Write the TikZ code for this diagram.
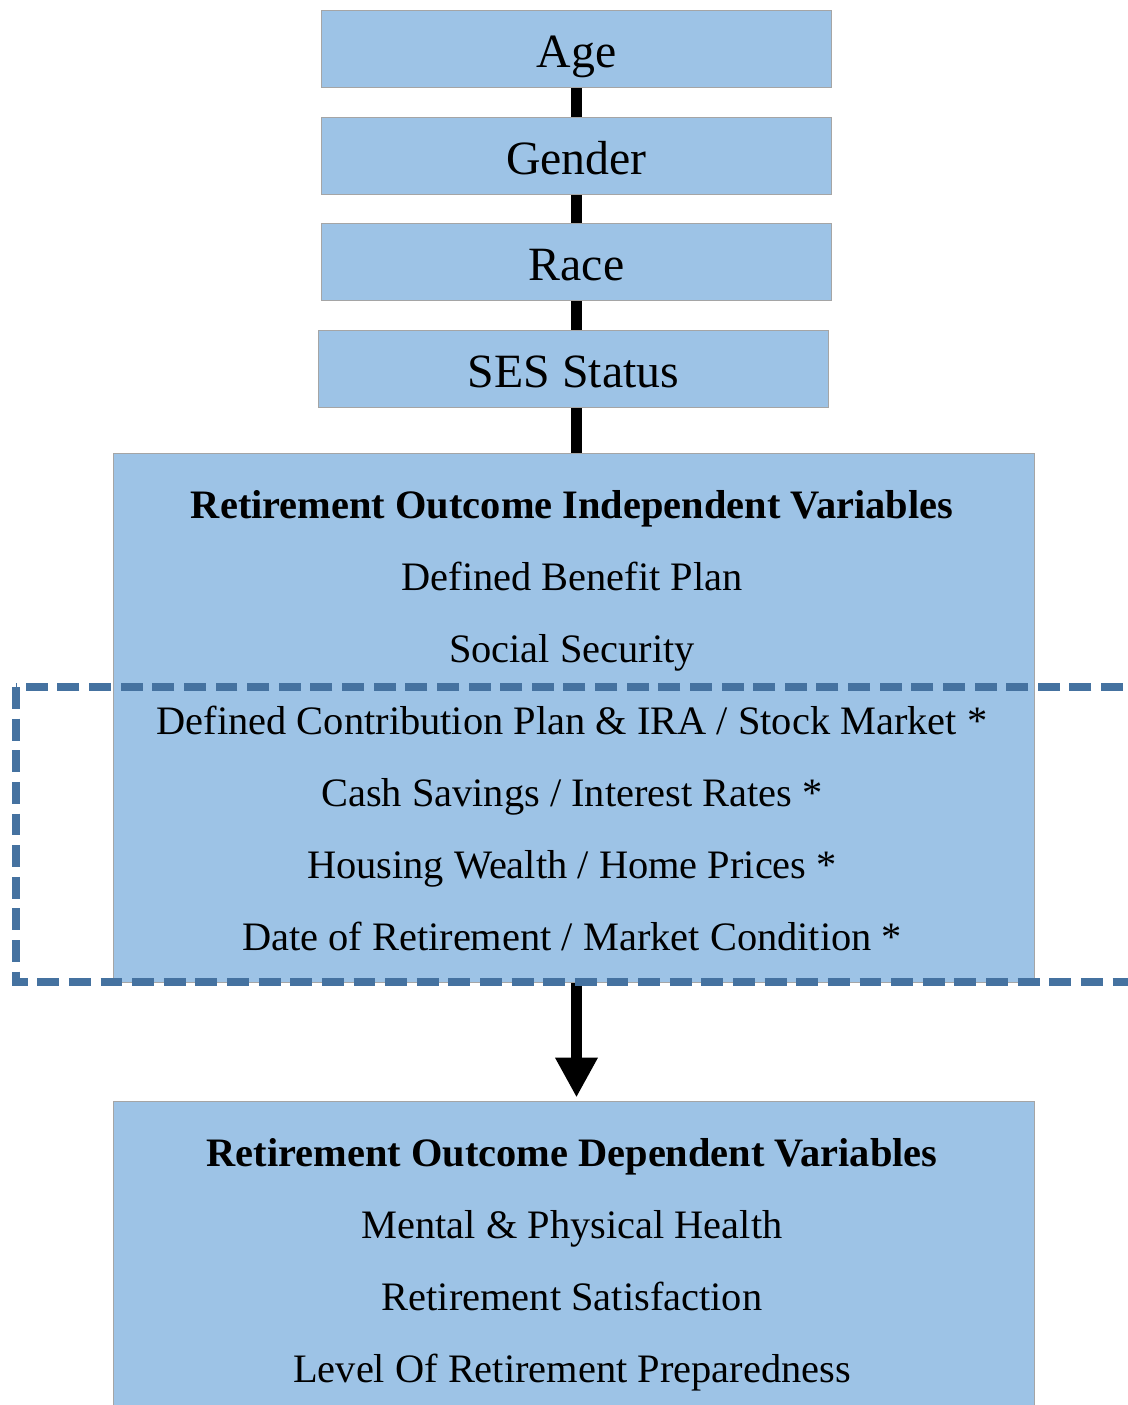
\documentclass[tikz,border=0pt]{standalone}
\usepackage{fontspec}
\setmainfont{Liberation Serif}
\usetikzlibrary{arrows.meta}
\definecolor{boxfill}{HTML}{9DC3E6}
\definecolor{boxedge}{HTML}{A5A5A5}
\definecolor{dashblue}{RGB}{69,114,160}

\begin{document}
\begin{tikzpicture}[x=0.02cm,y=-0.02cm,
  varbox/.style={draw=boxedge, line width=0.6pt, fill=boxfill, inner sep=0pt, anchor=north west},
  smallbox/.style={varbox, minimum width=10.2cm, minimum height=1.54cm,
    text height=20.8pt, text depth=0pt, font=\fontsize{27.2}{30}\selectfont},
  bigbox/.style={varbox, minimum width=18.42cm},
  txt/.style={font=\fontsize{23}{26}\selectfont, inner sep=0pt, anchor=base},
  head/.style={txt, font=\fontsize{23}{26}\selectfont\bfseries},
  link/.style={line width=6.8pt, draw=black},
  group/.style={draw=dashblue, line width=4.2pt, dash pattern=on 12.5pt off 5.5pt},
]
\useasboundingbox (0,0) rectangle (1128,1405);
\clip (0,0) rectangle (1128,1405);

% demographic boxes
\node[smallbox] (age)    at (321,10)  {Age};
\node[smallbox] (gender) at (321,117) {Gender};
\node[smallbox] (race)   at (321,223) {Race};
\node[smallbox] (ses)    at (318,330) {SES Status};

% independent variables
\node[bigbox, minimum height=10.58cm] (indep) at (113,453) {};
\node[head] (ih) at (572,518) {Retirement Outcome Independent Variables};
\node[txt] (i1) at (572,590) {Defined Benefit Plan};
\node[txt] (i2) at (572,662) {Social Security};
\node[txt] (i3) at (572,734) {Defined Contribution Plan \& IRA / Stock Market *};
\node[txt] (i4) at (572,806) {Cash Savings / Interest Rates *};
\node[txt] (i5) at (572,878) {Housing Wealth / Home Prices *};
\node[txt] (i6) at (572,950) {Date of Retirement / Market Condition *};

% dependent variables
\node[bigbox, minimum height=6.5cm] (dep) at (113,1101) {};
\node[head] (dh) at (572,1166) {Retirement Outcome Dependent Variables};
\node[txt] (d1) at (572,1238) {Mental \& Physical Health};
\node[txt] (d2) at (572,1310) {Retirement Satisfaction};
\node[txt] (d3) at (572,1382) {Level Of Retirement Preparedness};

% connectors
\draw[link] (age.south) -- (gender.north);
\draw[link] (gender.south) -- (race.north);
\draw[link] (race.south) -- (race.south |- ses.north);
\draw[link] (race.south |- ses.south) -- (race.south |- indep.north);
\draw[link, -{Triangle[width=22.7pt,length=22.7pt]}, shorten >=2pt]
  (race.south |- indep.south) -- (race.south |- dep.north);

% market-sensitive group
\coordinate (gtl) at (16,687);
\coordinate (gbr) at (1160,982);
\draw[group] (gtl) rectangle (gbr);
\end{tikzpicture}
\end{document}
